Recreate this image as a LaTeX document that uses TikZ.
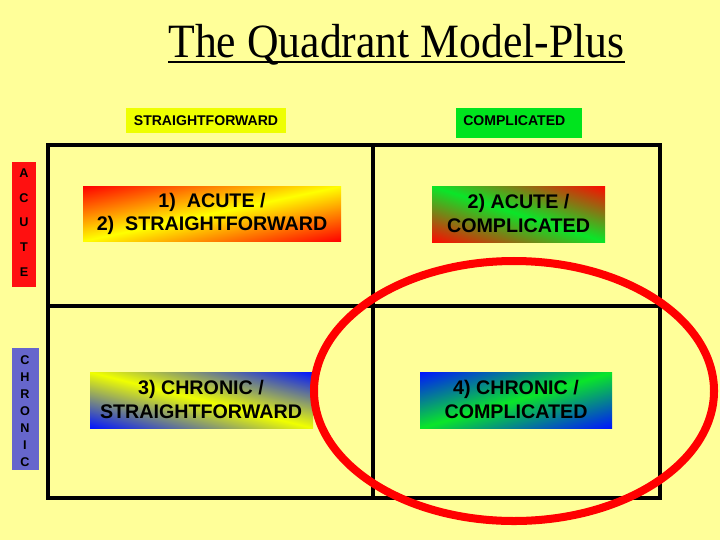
\documentclass[tikz,border=0pt]{standalone}
\usepackage{fontspec}
\setmainfont{Liberation Serif}
\newfontfamily\arialfont{Liberation Sans}
\usepackage{tikz}

\definecolor{paper}{RGB}{255,255,153}
\definecolor{hdryellow}{RGB}{238,255,0}
\definecolor{hdrgreen}{RGB}{0,228,30}
\definecolor{sidered}{RGB}{255,16,16}
\definecolor{sideblue}{RGB}{102,102,204}

% diagonal two-colour shadings, t = distance from a diagonal of the box
\pgfdeclarefunctionalshading{acuteplain}{\pgfpoint{0bp}{0bp}}{\pgfpoint{100bp}{100bp}}{}{%
  sub abs 50 div dup dup 0 mul 1 add 3 1 roll -1 mul 1 add exch 0 mul 0 add}
\pgfdeclarefunctionalshading{acutecompl}{\pgfpoint{0bp}{0bp}}{\pgfpoint{100bp}{100bp}}{}{%
  add 100 sub abs 50 div dup dup 0.96 mul 0.04 add 3 1 roll -0.86 mul 0.9 add exch -0.16 mul 0.16 add}
\pgfdeclarefunctionalshading{chronplain}{\pgfpoint{0bp}{0bp}}{\pgfpoint{100bp}{100bp}}{}{%
  add 100 sub abs 50 div dup dup -0.94 mul 0.94 add 3 1 roll -0.92 mul 1 add exch 1 mul 0 add}
\pgfdeclarefunctionalshading{chroncompl}{\pgfpoint{0bp}{0bp}}{\pgfpoint{100bp}{100bp}}{}{%
  sub abs 50 div dup dup -0.04 mul 0.04 add 3 1 roll -0.82 mul 0.9 add exch 0.84 mul 0.16 add}

\begin{document}
\begin{tikzpicture}[x=.025cm,y=-.025cm,
  lab/.style={font=\arialfont\bfseries\fontsize{14}{16.5}\selectfont,align=center,inner sep=0pt},
  hdr/.style={font=\arialfont\bfseries\fontsize{10}{12}\selectfont,inner sep=0pt},
  side/.style={font=\arialfont\bfseries\fontsize{9}{10}\selectfont,inner sep=0pt},
  grid/.style={line width=2.2pt}]
  \fill[paper] (0,0) rectangle (720,540);
  \useasboundingbox (0,0) rectangle (720,540);

  \node[anchor=base,inner sep=0pt,font=\fontsize{34}{40}\selectfont] (title) at (396.5,57) {\scalebox{0.914}[1]{The Quadrant Model-Plus}};
  \draw[line width=1.5pt] ([yshift=-3.4pt]title.base west) -- ([yshift=-3.4pt]title.base east);

  \fill[hdryellow] (126,108) rectangle (286,133);
  \node[hdr] (sf) at (206,120.5) {STRAIGHTFORWARD};
  \fill[hdrgreen] (456,108) rectangle (582,138);
  \node[hdr,anchor=west] (cp) at (463,120.5) {COMPLICATED};

  \fill[sidered] (12,162) rectangle (36,287);
  \foreach \l [count=\i from 0] in {A,C,U,T,E}
    \node[side] (ac\i) at (24,{173+24.75*\i}) {\l};
  \fill[sideblue] (12,348) rectangle (39,470);
  \foreach \l [count=\i from 0] in {C,H,R,O,N,I,C}
    \node[side] (ch\i) at (25,{360+17*\i}) {\l};

  \draw[grid] (48,145) rectangle (660,498);
  \draw[grid] (373,145) -- (373,498);
  \draw[grid] (48,306) -- (660,306);

  \shade[shading=acuteplain] (83,186) rectangle (341,241);
  \shade[shading=acutecompl] (432,186) rectangle (605,242);
  \shade[shading=chronplain] (90,372) rectangle (313,428);
  \shade[shading=chroncompl] (420,372) rectangle (612,428);

  \node[lab] (q1) at (212,214) {1)\ \ ACUTE /\\2)\ \ STRAIGHTFORWARD};
  \node[lab] (q2) at (518.5,213.5) {2) ACUTE /\\COMPLICATED};
  \node[lab] (q3) at (201,399.5) {3) CHRONIC /\\STRAIGHTFORWARD};
  \node[lab] (q4) at (516,399.5) {4) CHRONIC /\\COMPLICATED};

  \draw[red,line width=5.7pt] (514,391) ellipse (200 and 130);
\end{tikzpicture}
\end{document}
